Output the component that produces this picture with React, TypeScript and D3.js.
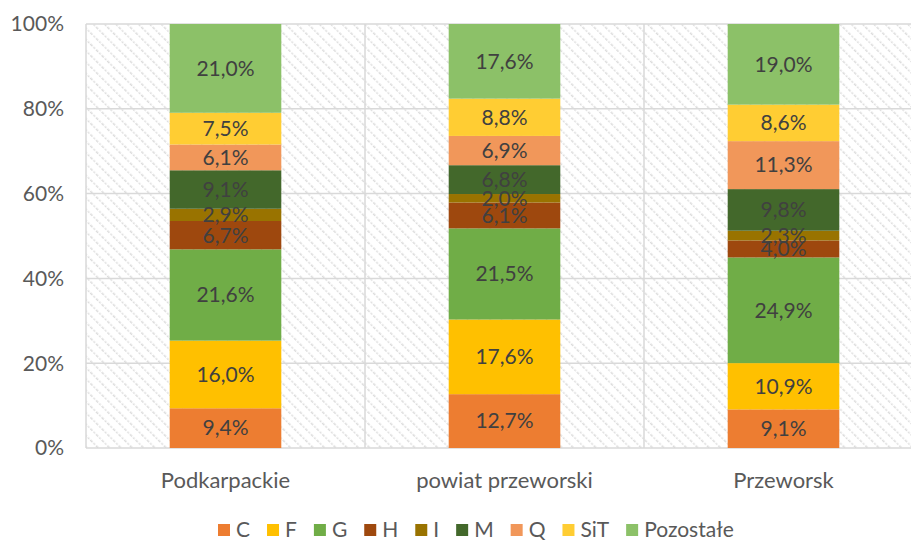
import React, { useEffect } from 'react';
import * as d3 from 'd3';

const categories = ['Podkarpackie', 'powiat przeworski', 'Przeworsk'];
const seriesNames = ['C', 'F', 'G', 'H', 'I', 'M', 'Q', 'SiT', 'Pozostałe'];
const seriesColors = ['#ED7D31', '#FFC000', '#70AD47', '#9E480E', '#997300', '#43682B', '#F1975A', '#FFCD33', '#8CC168'];

// values per series, in category order
const C = [9.4, 12.7, 9.1];
const F = [16.0, 17.6, 10.9];
const G = [21.6, 21.5, 24.9];
const H = [6.7, 6.1, 4.0];
const I = [2.9, 2.0, 2.3];
const M = [9.1, 6.8, 9.8];
const Q = [6.1, 6.9, 11.3];
const SiT = [7.5, 8.8, 8.6];
const Pozostale = [21.0, 17.6, 19.0];

const yTicks = [0, 0.2, 0.4, 0.6, 0.8, 1];

const W = 911;
const H_ = 542;
const FONT = 'Lato, "Open Sans", sans-serif';

function textWidth(s: string, size: number) {
  const ctx = document.createElement('canvas').getContext('2d')!;
  ctx.font = `${size}px Lato`;
  return ctx.measureText(s).width;
}

export default function App() {
  useEffect(() => {
    document.body.style.margin = '0';
  }, []);

  const seriesValues = [C, F, G, H, I, M, Q, SiT, Pozostale];
  const rows = categories.map((cat, i) => {
    const r: Record<string, any> = { cat };
    seriesNames.forEach((s, k) => (r[s] = seriesValues[k][i]));
    return r;
  });
  const stacked = d3.stack<any>().keys(seriesNames).offset(d3.stackOffsetExpand)(rows);

  const left = 86;
  const right = 923;
  const top = 24;
  const bottom = 448;

  const x = d3.scaleBand().domain(categories).range([left, right]);
  const y = d3.scaleLinear().domain([0, 1]).range([bottom, top]);
  const barW = x.bandwidth() * 0.4;

  const fmt = (v: number) => v.toFixed(1).replace('.', ',') + '%';

  // legend layout
  const fs = 21;
  const sq = 12;
  const gapText = 6;
  const gapItem = 17;
  let lx = 218;
  const legendPos = seriesNames.map((s) => {
    const p = lx;
    lx += sq + gapText + textWidth(s, fs) + gapItem;
    return p;
  });

  return (
    <svg width={W} height={H_} style={{ display: 'block', fontFamily: FONT }}>
      <defs>
        <pattern id="hatch" width="8" height="8" patternUnits="userSpaceOnUse" patternTransform="rotate(-45)">
          <rect width="8" height="8" fill="#ffffff" />
          <line x1="0" y1="0" x2="0" y2="8" stroke="#dcdcdc" strokeWidth="3" strokeDasharray="2 1.5" />
        </pattern>
      </defs>
      <rect width={W} height={H_} fill="#ffffff" />
      <rect x={left} y={top} width={right - left} height={bottom - top} fill="url(#hatch)" />
      {yTicks.map((t) => (
        <line key={t} x1={left} x2={right} y1={y(t)} y2={y(t)} stroke="#d9d9d9" strokeWidth={1.5} />
      ))}
      {[...categories.map((c) => x(c)!), right].map((v, i) => (
        <line key={i} x1={v} x2={v} y1={top} y2={bottom} stroke="#d9d9d9" strokeWidth={1.5} />
      ))}
      {yTicks.map((t) => (
        <text key={t} x={64} y={y(t)} dy="0.35em" textAnchor="end" fontSize={fs} fill="#595959">
          {Math.round(t * 100)}%
        </text>
      ))}
      {stacked.map((s, k) => (
        <g key={s.key} fill={seriesColors[k]}>
          {s.map((d, i) => (
            <rect
              key={i}
              x={x(categories[i])! + (x.bandwidth() - barW) / 2}
              y={y(d[1])}
              width={barW}
              height={y(d[0]) - y(d[1])}
            />
          ))}
        </g>
      ))}
      {stacked.map((s, k) =>
        s.map((d, i) => (
          <text
            key={s.key + i}
            x={x(categories[i])! + x.bandwidth() / 2}
            y={(y(d[0]) + y(d[1])) / 2}
            dy="0.35em"
            textAnchor="middle"
            fontSize={fs}
            fill="#404040"
          >
            {fmt(seriesValues[k][i])}
          </text>
        ))
      )}
      {categories.map((c) => (
        <text key={c} x={x(c)! + x.bandwidth() / 2} y={480} dy="0.35em" textAnchor="middle" fontSize={22} fill="#595959">
          {c}
        </text>
      ))}
      {seriesNames.map((s, k) => (
        <g key={s} transform={`translate(${legendPos[k]},530)`}>
          <rect x={0} y={-sq / 2} width={sq} height={sq} fill={seriesColors[k]} />
          <text x={sq + gapText} y={0} dy="0.35em" fontSize={fs} fill="#595959">
            {s}
          </text>
        </g>
      ))}
    </svg>
  );
}
